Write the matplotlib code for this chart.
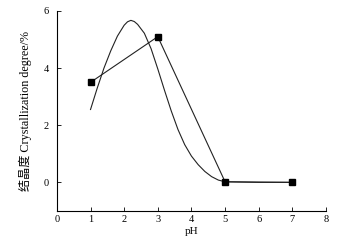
import matplotlib.pyplot as plt
import numpy as np

plt.rcParams['font.family'] = ['Liberation Serif', 'Noto Sans CJK SC']
plt.rcParams['font.size'] = 7.5

# measured points
ph = [1, 3, 5, 7]
cryst = [3.5, 5.1, 0.02, 0.0]

# fitted curve
fit_x = [1.0, 1.2, 1.4, 1.6, 1.8, 2.0, 2.1, 2.2, 2.3, 2.4, 2.6, 2.8, 3.0, 3.2, 3.4, 3.6,
         3.8, 4.0, 4.2, 4.4, 4.6, 4.8, 5.0, 5.5, 6.0, 6.5, 7.0]
fit_y = [2.55, 3.3, 4.0, 4.6, 5.12, 5.5, 5.62, 5.67, 5.63, 5.53, 5.22, 4.68, 3.97, 3.22, 2.5, 1.85,
         1.32, 0.92, 0.62, 0.38, 0.2, 0.08, 0.02, 0.01, 0.0, 0.0, 0.0]

fig = plt.figure(figsize=(3.49, 2.43), dpi=100)
ax = fig.add_axes([0.163, 0.132, 0.771, 0.823])
ax.plot(fit_x, fit_y, color='#222222', lw=0.8)
ax.plot(ph, cryst, color='#222222', lw=0.8, marker='s', ms=4, mfc='black', mec='black')

ax.set_xlim(0, 8)
ax.set_ylim(-1, 6)
ax.set_xticks(range(0, 9))
ax.set_yticks([0, 2, 4, 6])
ax.tick_params(direction='in', length=3, width=0.6)
ax.tick_params(axis='y', pad=6)
ax.tick_params(axis='x', pad=3)
for s in ['top', 'right']:
    ax.spines[s].set_visible(False)
for s in ['left', 'bottom']:
    ax.spines[s].set_linewidth(0.8)
ax.set_xlabel('pH', fontsize=8, labelpad=2)
ax.set_ylabel('结晶度 Crystallization degree/%', fontsize=8.7, labelpad=8)

plt.savefig('out.png', dpi=100)
